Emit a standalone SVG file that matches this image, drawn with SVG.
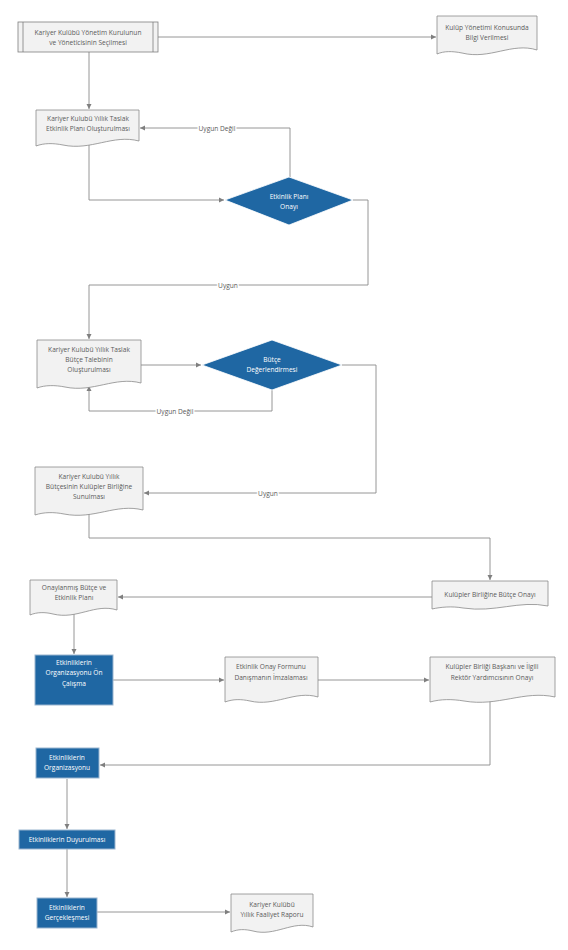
<svg xmlns="http://www.w3.org/2000/svg" width="568" height="950" viewBox="0 0 568 950">
<defs>
<marker id="ah" markerWidth="6" markerHeight="6" refX="5" refY="3" orient="auto" markerUnits="userSpaceOnUse">
<path d="M0,0.5 L5,3 L0,5.5 Z" fill="#7f7f7f"/>
</marker>
</defs>
<style>
text{font-family:"Open Sans","Noto Sans","Liberation Sans",sans-serif;font-size:6.6px;font-weight:400;text-anchor:middle;fill:#5a5a5a}
.doc{fill:#f2f2f2;stroke:#8a8a8a;stroke-width:0.8}
.proc{fill:#1f67a3;stroke:#9ab5cf;stroke-width:1}
.proc-t{fill:#ffffff}
.dia{fill:#1f67a3;stroke:#ffffff;stroke-width:0.8}
.pp{fill:#f2f2f2;stroke:#7f7f7f;stroke-width:0.8}
.c{fill:none;stroke:#7f7f7f;stroke-width:0.9}
.ca{fill:none;stroke:#8a8a8a;stroke-width:0.9;marker-end:url(#ah)}
.lbl{fill:#5a5a5a;stroke:#ffffff;stroke-width:3;paint-order:stroke}
</style>
<rect width="568" height="950" fill="#ffffff"/>
<g id="connectors">
<path class="ca" d="M158,37 H436"/>
<path class="ca" d="M89,52 V109"/>
<path class="ca" d="M290,177 V128 H140"/>
<path class="ca" d="M89,144 V200 H224"/>
<path class="ca" d="M353,200 H368 V285 H89 V339"/>
<path class="ca" d="M141,365 H201"/>
<path class="ca" d="M272,390 V411 H89 V386"/>
<path class="ca" d="M342,365 H376 V493 H144"/>
<path class="ca" d="M89,513 V538 H490 V580"/>
<path class="ca" d="M432,597 H118"/>
<path class="ca" d="M74,613 V654"/>
<path class="ca" d="M113,680 H224"/>
<path class="ca" d="M318,680 H429"/>
<path class="ca" d="M490,700 V765 H100"/>
<path class="ca" d="M67,779 V829"/>
<path class="ca" d="M67,849 V897"/>
<path class="ca" d="M97,912 H230"/>
<text class="lbl" x="217" y="130.5">Uygun Değil</text>
<text class="lbl" x="228" y="287.5">Uygun</text>
<text class="lbl" x="175" y="413.5">Uygun Değil</text>
<text class="lbl" x="268" y="495.5">Uygun</text>
</g>
<g id="n1">
<rect class="pp" x="18" y="22" width="140" height="30"/>
<line class="pp" x1="23" y1="22" x2="23" y2="52"/>
<line class="pp" x1="153" y1="22" x2="153" y2="52"/>
<text x="88" y="35">Kariyer Kulübü Yönetim Kurulunun</text>
<text x="88" y="45">ve Yöneticisinin Seçilmesi</text>
</g>
<g id="n2">
<path class="doc" d="M437,16 H537 V50 C512,42 490,60 462,53 C452,51 444,51 437,54 Z"/>
<text x="487" y="30">Kulüp Yönetimi Konusunda</text>
<text x="487" y="40">Bilgi Verilmesi</text>
</g>
<g id="n3">
<path class="doc" d="M36,110 H139 V141 C113,134 91,151 63,145 C53,143 44,143 36,146 Z"/>
<text x="88" y="121">Kariyer Kulubü Yıllık Taslak</text>
<text x="88" y="131">Etkinlik Planı Oluşturulması</text>
</g>
<g id="d1">
<path class="dia" d="M225,200 L289,177 L353,200 L289,225 Z"/>
<text class="proc-t" x="289" y="199">Etkinlik Planı</text>
<text class="proc-t" x="289" y="209">Onayı</text>
</g>
<g id="n4">
<path class="doc" d="M37,340 H141 V383 C115,376 93,393 65,387 C55,385 45,385 37,388 Z"/>
<text x="89" y="352">Kariyer Kulubü Yıllık Taslak</text>
<text x="89" y="362">Bütçe Talebinin</text>
<text x="89" y="372">Oluşturulması</text>
</g>
<g id="d2">
<path class="dia" d="M202,365 L272,340 L342,365 L272,390 Z"/>
<text class="proc-t" x="272" y="362">Bütçe</text>
<text class="proc-t" x="272" y="372">Değerlendirmesi</text>
</g>
<g id="n5">
<path class="doc" d="M35,467 H143 V510 C116,503 94,520 64,514 C54,512 44,512 35,515 Z"/>
<text x="89" y="479">Kariyer Kulubü Yıllık</text>
<text x="89" y="489">Bütçesinin Kulüpler Birliğine</text>
<text x="89" y="499">Sunulması</text>
</g>
<g id="n6">
<path class="doc" d="M432,581 H548 V606 C519,600 495,613 463,608 C452,606 441,607 432,609 Z"/>
<text x="490" y="597">Kulüpler Birliğine Bütçe Onayı</text>
</g>
<g id="n7">
<path class="doc" d="M30,580 H117 V610 C95,603 77,620 53,614 C45,612 37,612 30,615 Z"/>
<text x="74" y="590">Onaylanmış Bütçe ve</text>
<text x="74" y="600">Etkinlik Planı</text>
</g>
<g id="n8">
<rect class="proc" x="35" y="655" width="78" height="50"/>
<text class="proc-t" x="74" y="665">Etkinliklerin</text>
<text class="proc-t" x="74" y="675">Organizasyonu Ön</text>
<text class="proc-t" x="74" y="686">Çalışma</text>
</g>
<g id="n9">
<path class="doc" d="M225,657 H318 V697 C295,690 275,707 250,701 C241,699 233,699 225,702 Z"/>
<text x="271" y="669">Etkinlik Onay Formunu</text>
<text x="271" y="680">Danışmanın İmzalaması</text>
</g>
<g id="n10">
<path class="doc" d="M430,657 H555 V697 C524,690 498,707 464,701 C452,699 441,699 430,702 Z"/>
<text x="492" y="669">Kulüpler Birliği Başkanı ve İlgili</text>
<text x="492" y="680">Rektör Yardımcısının Onayı</text>
</g>
<g id="n11">
<rect class="proc" x="36" y="748" width="63" height="30"/>
<text class="proc-t" x="67" y="760">Etkinliklerin</text>
<text class="proc-t" x="67" y="770">Organizasyonu</text>
</g>
<g id="n12">
<rect class="proc" x="19" y="830" width="96" height="19"/>
<text class="proc-t" x="67" y="842">Etkinliklerin Duyurulması</text>
</g>
<g id="n13">
<rect class="proc" x="37" y="898" width="60" height="30"/>
<text class="proc-t" x="67" y="910">Etkinliklerin</text>
<text class="proc-t" x="67" y="920">Gerçekleşmesi</text>
</g>
<g id="n14">
<path class="doc" d="M231,894 H313 V927 C293,920 275,937 253,931 C245,929 238,929 231,932 Z"/>
<text x="272" y="907">Kariyer Kulübü</text>
<text x="272" y="917">Yıllık Faaliyet Raporu</text>
</g>
</svg>
